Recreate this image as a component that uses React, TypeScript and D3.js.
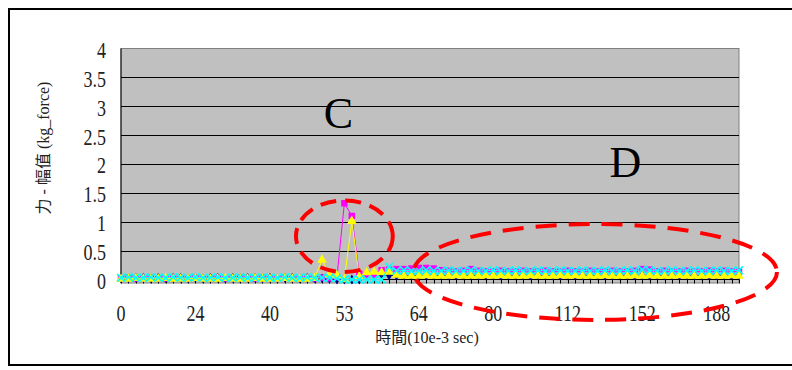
import React, { useEffect, useRef } from 'react';
import * as d3 from 'd3';

// time categories (10e-3 sec), only every 10th is labelled
const times = [
  0, 2, 5, 7, 10, 12, 14, 17, 19, 22,
  24, 26, 27, 29, 30, 32, 34, 35, 37, 38,
  40, 41, 43, 44, 45, 47, 48, 49, 51, 52,
  53, 54, 55, 56, 57, 58, 60, 61, 62, 63,
  64, 66, 67, 69, 70, 72, 74, 75, 77, 78,
  80, 83, 86, 89, 92, 96, 99, 102, 105, 109,
  112, 116, 120, 124, 128, 132, 136, 140, 144, 148,
  152, 156, 159, 163, 166, 170, 174, 177, 181, 184,
  188, 192, 195, 199,
];

const navy = [
  0.03, 0.02, 0.03, 0.03, 0.02, 0.03, 0.02, 0.03, 0.03, 0.02,
  0.03, 0.02, 0.03, 0.03, 0.02, 0.03, 0.02, 0.03, 0.03, 0.02,
  0.03, 0.02, 0.03, 0.03, 0.02, 0.03, 0.02, 0.02, 0.01, 0.0,
  0.0, 0.0, 0.0, 0.12, 0.12, 0.08, 0.07, 0.07, 0.07, 0.07,
  0.07, 0.07, 0.07, 0.07, 0.07, 0.07, 0.07, 0.07, 0.07, 0.07,
  0.07, 0.07, 0.07, 0.07, 0.07, 0.07, 0.07, 0.07, 0.07, 0.07,
  0.07, 0.07, 0.07, 0.07, 0.07, 0.07, 0.07, 0.07, 0.07, 0.07,
  0.07, 0.07, 0.07, 0.07, 0.07, 0.07, 0.07, 0.07, 0.07, 0.07,
  0.07, 0.07, 0.07, 0.07,
];

const magenta = [
  0.02, 0.03, 0.02, 0.02, 0.03, 0.02, 0.02, 0.03, 0.02, 0.02,
  0.03, 0.02, 0.02, 0.03, 0.02, 0.02, 0.03, 0.02, 0.02, 0.03,
  0.02, 0.02, 0.03, 0.02, 0.02, 0.03, 0.02, 0.03, 0.02, 0.04,
  1.32, 1.10, 0.10, 0.08, 0.08, 0.16, 0.17, 0.18, 0.18, 0.19,
  0.20, 0.20, 0.19, 0.16, 0.15, 0.14, 0.15, 0.18, 0.15, 0.14,
  0.14, 0.15, 0.14, 0.14, 0.15, 0.14, 0.14, 0.15, 0.14, 0.14,
  0.15, 0.14, 0.14, 0.15, 0.14, 0.14, 0.15, 0.14, 0.14, 0.15,
  0.18, 0.17, 0.14, 0.15, 0.14, 0.14, 0.15, 0.14, 0.14, 0.15,
  0.14, 0.15, 0.14, 0.14,
];

const yellow = [
  0.01, 0.01, 0.02, 0.01, 0.01, 0.01, 0.02, 0.01, 0.01, 0.01,
  0.02, 0.01, 0.01, 0.01, 0.02, 0.01, 0.01, 0.01, 0.02, 0.01,
  0.01, 0.01, 0.02, 0.01, 0.01, 0.01, 0.02, 0.34, 0.08, 0.07,
  0.0, 1.01, 0.05, 0.12, 0.13, 0.12, 0.13, 0.08, 0.06, 0.06,
  0.06, 0.07, 0.06, 0.06, 0.06, 0.07, 0.06, 0.06, 0.06, 0.07,
  0.06, 0.07, 0.06, 0.06, 0.06, 0.07, 0.06, 0.06, 0.06, 0.07,
  0.06, 0.07, 0.06, 0.06, 0.06, 0.07, 0.06, 0.06, 0.06, 0.07,
  0.06, 0.07, 0.06, 0.06, 0.06, 0.07, 0.06, 0.06, 0.06, 0.07,
  0.06, 0.06, 0.07, 0.06,
];

const cyan = [
  0.03, 0.04, 0.03, 0.03, 0.04, 0.03, 0.03, 0.04, 0.03, 0.03,
  0.04, 0.03, 0.03, 0.04, 0.03, 0.03, 0.04, 0.03, 0.03, 0.04,
  0.03, 0.03, 0.04, 0.03, 0.03, 0.04, 0.03, 0.03, 0.03, 0.02,
  0.0, 0.0, 0.0, 0.0, 0.0, 0.0, 0.22, 0.15, 0.16, 0.15,
  0.15, 0.16, 0.15, 0.15, 0.16, 0.15, 0.15, 0.16, 0.15, 0.15,
  0.16, 0.15, 0.15, 0.16, 0.15, 0.15, 0.16, 0.15, 0.15, 0.16,
  0.15, 0.15, 0.16, 0.15, 0.15, 0.16, 0.15, 0.15, 0.16, 0.15,
  0.17, 0.16, 0.15, 0.15, 0.16, 0.15, 0.15, 0.16, 0.15, 0.15,
  0.16, 0.15, 0.15, 0.16,
];

const yTicks = [0, 0.5, 1, 1.5, 2, 2.5, 3, 3.5, 4];

const App: React.FC = () => {
  const ref = useRef<SVGSVGElement | null>(null);

  useEffect(() => {
    if (!ref.current) return;
    const svg = d3.select(ref.current);
    svg.selectAll('*').remove();

    const left = 121, right = 739, top = 48.5, zero = 279.5;
    const x = d3.scaleLinear().domain([0, times.length - 1]).range([left, right]);
    const y = d3.scaleLinear().domain([0, 4]).range([zero, top]);
    const serif = '"Liberation Serif", "Times New Roman", serif';
    const cjk = '"Liberation Serif", "Noto Sans CJK TC", serif';

    // outer chart border
    svg.append('rect')
      .attr('x', 9).attr('y', 9).attr('width', 800).attr('height', 356)
      .attr('fill', '#fff').attr('stroke', '#000').attr('stroke-width', 2);

    // plot area
    svg.append('rect')
      .attr('x', left).attr('y', top).attr('width', right - left).attr('height', 283 - top)
      .attr('fill', '#c0c0c0').attr('stroke', '#808080');

    svg.append('g').selectAll('line')
      .data(yTicks.slice(1, -1))
      .join('line')
      .attr('x1', left).attr('x2', right)
      .attr('y1', d => Math.round(y(d)) + 0.5).attr('y2', d => Math.round(y(d)) + 0.5)
      .attr('stroke', '#000');

    // axes
    svg.append('line').attr('x1', left).attr('x2', left).attr('y1', top).attr('y2', 283)
      .attr('stroke', '#000');
    svg.append('line').attr('x1', left).attr('x2', right).attr('y1', zero).attr('y2', zero)
      .attr('stroke', '#000');
    svg.append('g').selectAll('line')
      .data(times.map((_, i) => i))
      .join('line')
      .attr('x1', i => Math.round(x(i)) + 0.5).attr('x2', i => Math.round(x(i)) + 0.5)
      .attr('y1', zero).attr('y2', zero + 4)
      .attr('stroke', '#000');

    // y tick labels
    svg.append('g').selectAll('text')
      .data(yTicks)
      .join('text')
      .attr('transform', d => `translate(106,${y(d) + 1.5}) scale(1,1.25)`)
      .attr('dy', '0.35em')
      .attr('text-anchor', 'end')
      .attr('font-family', serif).attr('font-size', 18).attr('fill', '#222')
      .text(d => String(d));

    // x tick labels every 10 categories
    svg.append('g').selectAll('text')
      .data(times.map((t, i) => ({ t, i })).filter(d => d.i % 10 === 0))
      .join('text')
      .attr('transform', d => `translate(${x(d.i)},313) scale(1,1.25)`)
      .attr('dy', '0.35em')
      .attr('text-anchor', 'middle')
      .attr('font-family', serif).attr('font-size', 18).attr('fill', '#222')
      .text(d => String(d.t));

    // axis titles
    svg.append('text')
      .attr('transform', 'translate(43,148) rotate(-90)')
      .attr('dy', '0.35em')
      .attr('text-anchor', 'middle')
      .attr('font-family', cjk).attr('font-size', 16).attr('fill', '#222')
      .text('力 - 幅值 (kg_force)');
    svg.append('text')
      .attr('x', 427).attr('y', 337)
      .attr('dy', '0.35em')
      .attr('text-anchor', 'middle')
      .attr('font-family', cjk).attr('font-size', 16).attr('fill', '#222')
      .text('時間(10e-3 sec)');

    const series = [
      { values: navy, color: '#000080', symbol: d3.symbolDiamond, size: 28, fill: true },
      { values: magenta, color: '#ff00ff', symbol: d3.symbolSquare, size: 42, fill: true },
      { values: yellow, color: '#ffff00', symbol: d3.symbolTriangle, size: 40, fill: true },
      { values: cyan, color: '#00ffff', symbol: d3.symbolTimes, size: 40, fill: false },
    ];

    const line = d3.line<number>().x((_, i) => x(i)).y(d => y(d));

    series.forEach(s => {
      const g = svg.append('g');
      g.append('path')
        .attr('d', line(s.values))
        .attr('fill', 'none')
        .attr('stroke', s.color)
        .attr('stroke-width', 1);
      g.selectAll('path.m')
        .data(s.values)
        .join('path')
        .attr('class', 'm')
        .attr('transform', (d, i) => `translate(${x(i)},${y(d)})`)
        .attr('d', d3.symbol().type(s.symbol).size(s.size)())
        .attr('fill', s.fill ? s.color : 'none')
        .attr('stroke', s.color)
        .attr('stroke-width', s.fill ? 0 : 1.6);
    });

    // annotations
    const ann = svg.append('g');
    ann.append('ellipse')
      .attr('cx', x(30)).attr('cy', y(0.75))
      .attr('rx', x(6.5) - x(0)).attr('ry', y(0) - y(0.62))
      .attr('fill', 'none').attr('stroke', '#ff0000').attr('stroke-width', 4)
      .attr('stroke-dasharray', '16 9');
    ann.append('ellipse')
      .attr('cx', x(63.7)).attr('cy', y(0.13))
      .attr('rx', x(24.4) - x(0)).attr('ry', y(0) - y(0.83))
      .attr('fill', 'none').attr('stroke', '#ff0000').attr('stroke-width', 4)
      .attr('stroke-dasharray', '21 12');
    ann.append('text')
      .attr('x', x(29.2)).attr('y', y(2.62))
      .attr('text-anchor', 'middle')
      .attr('font-family', serif).attr('font-size', 44).attr('fill', '#000')
      .text('C');
    ann.append('text')
      .attr('x', x(67.75)).attr('y', y(1.77))
      .attr('text-anchor', 'middle')
      .attr('font-family', serif).attr('font-size', 44).attr('fill', '#000')
      .text('D');
  }, []);

  return (
    <svg ref={ref} width={792} height={370}
      style={{ position: 'absolute', left: 0, top: 0, background: '#fff' }} />
  );
};

export default App;
